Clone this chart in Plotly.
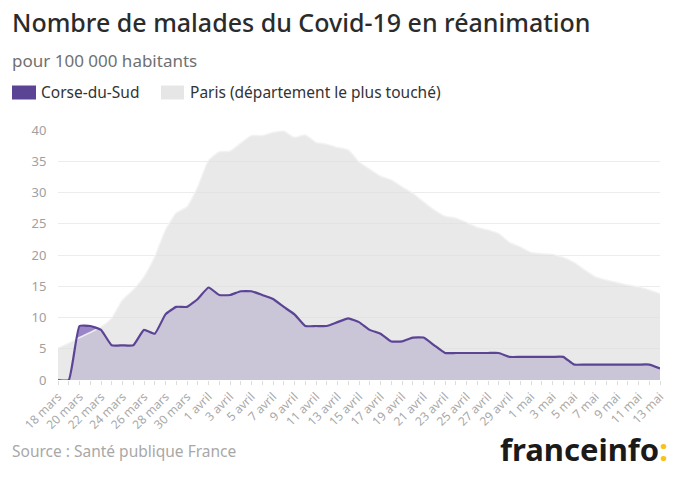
import plotly.graph_objects as go

days = ["18 mars", "19 mars", "20 mars", "21 mars", "22 mars", "23 mars", "24 mars", "25 mars",
        "26 mars", "27 mars", "28 mars", "29 mars", "30 mars", "31 mars",
        "1 avril", "2 avril", "3 avril", "4 avril", "5 avril", "6 avril", "7 avril", "8 avril",
        "9 avril", "10 avril", "11 avril", "12 avril", "13 avril", "14 avril", "15 avril",
        "16 avril", "17 avril", "18 avril", "19 avril", "20 avril", "21 avril", "22 avril",
        "23 avril", "24 avril", "25 avril", "26 avril", "27 avril", "28 avril", "29 avril",
        "30 avril", "1 mai", "2 mai", "3 mai", "4 mai", "5 mai", "6 mai", "7 mai", "8 mai",
        "9 mai", "10 mai", "11 mai", "12 mai", "13 mai"]

corse = [0, 0, 8.64, 8.64, 8.02, 5.55, 5.55, 5.55, 8.02, 7.4, 10.5, 11.7, 11.7, 12.96,
         14.8, 13.6, 13.6, 14.2, 14.2, 13.6, 12.96, 11.7, 10.5, 8.64, 8.64, 8.64, 9.26,
         9.87, 9.26, 8.02, 7.4, 6.17, 6.17, 6.79, 6.79, 5.55, 4.32, 4.32, 4.32, 4.32,
         4.32, 4.32, 3.7, 3.7, 3.7, 3.7, 3.7, 3.7, 2.47, 2.47, 2.47, 2.47, 2.47, 2.47,
         2.47, 2.47, 1.85]

paris = [5.1, 5.9, 6.8, 7.6, 8.5, 9.9, 12.8, 14.4, 16.5, 19.7, 24.0, 26.7, 27.7, 30.9,
         35.1, 36.5, 36.6, 37.9, 39.1, 39.1, 39.6, 39.8, 38.8, 39.2, 38.0, 37.7, 37.2,
         36.8, 34.9, 33.7, 32.6, 32.0, 30.9, 29.9, 28.5, 27.2, 26.2, 25.9, 25.2, 24.4,
         24.0, 23.4, 22.0, 21.3, 20.4, 20.2, 20.1, 19.6, 18.8, 17.6, 16.5, 16.0, 15.6,
         15.2, 14.9, 14.4, 13.8]

y_ticks = [0, 5, 10, 15, 20, 25, 30, 35, 40]

title = "Nombre de malades du Covid-19 en réanimation"
subtitle = "pour 100 000 habitants"
series_names = ["Corse-du-Sud", "Paris (département le plus touché)"]
source = "Source : Santé publique France"

FONT = "Noto Sans"
PURPLE = "#5b4494"

x = list(range(len(days)))
fig = go.Figure()
# Corse fill (below Paris)
fig.add_trace(go.Scatter(x=x, y=corse, mode="lines", fill="tozeroy",
                         line=dict(width=0, color="#8f7cbd", shape="spline", smoothing=0.4),
                         fillcolor="#9a86c6", hoverinfo="skip", showlegend=False))
# Paris area semi-transparent on top
fig.add_trace(go.Scatter(x=x, y=paris, mode="lines", fill="tozeroy",
                         line=dict(width=1.5, color="rgba(242,242,242,0.9)", shape="spline", smoothing=0.5),
                         fillcolor="rgba(224,224,224,0.7)", name=series_names[1], showlegend=False))
# Corse line on top
fig.add_trace(go.Scatter(x=x, y=corse, mode="lines",
                         line=dict(width=2.2, color=PURPLE, shape="spline", smoothing=0.4),
                         name=series_names[0], showlegend=False))

L, R, T, B = 58, 660, 130, 380
W = R - L
H = B - T


def px(xp):
    return (xp - L) / W


def py(yp):
    return (B - yp) / H


ann = []
ann.append(dict(text=title, x=px(10), y=py(22), xanchor="left", yanchor="middle",
                font=dict(family=FONT, size=25, color="#2b2b2b", weight=500)))
ann.append(dict(text=subtitle, x=px(10), y=py(60), xanchor="left", yanchor="middle",
                font=dict(family=FONT, size=17, color="#707070")))
ann.append(dict(text=series_names[0], x=px(39), y=py(92), xanchor="left", yanchor="middle",
                font=dict(family=FONT, size=15.5, color="#333333")))
ann.append(dict(text=series_names[1], x=px(188), y=py(92), xanchor="left", yanchor="middle",
                font=dict(family=FONT, size=15.5, color="#333333")))
ann.append(dict(text=source, x=px(10), y=py(451), xanchor="left", yanchor="middle",
                font=dict(family=FONT, size=15.5, color="#a8a8a8")))
ann.append(dict(text="<b>franceinfo</b><b><span style='color:#f7c21a'>:</span></b>",
                x=px(670), y=py(449), xanchor="right", yanchor="middle",
                font=dict(family=FONT, size=31, color="#1a1a1a")))
for a in ann:
    a.update(xref="paper", yref="paper", showarrow=False)

shapes = [
    dict(type="rect", xref="paper", yref="paper", x0=px(12), x1=px(36), y0=py(99.5), y1=py(85.5),
         fillcolor=PURPLE, line=dict(width=0)),
    dict(type="rect", xref="paper", yref="paper", x0=px(161), x1=px(184), y0=py(99.5), y1=py(85.5),
         fillcolor="#e6e6e6", line=dict(width=0)),
]

ticktext = [d if i % 2 == 0 else "" for i, d in enumerate(days)]

fig.update_layout(
    width=680, height=480,
    margin=dict(l=L, r=680 - R, t=T, b=480 - B),
    paper_bgcolor="white", plot_bgcolor="white",
    annotations=ann, shapes=shapes, showlegend=False,
    font=dict(family=FONT),
)
fig.update_xaxes(range=[0, len(days) - 1], tickmode="array", tickvals=x, ticktext=ticktext,
                 tickangle=-45, tickfont=dict(family=FONT, size=12, color="#a8a8a8"),
                 ticks="outside", ticklen=4, tickcolor="#dddddd", showgrid=False,
                 zeroline=False, showline=False)
fig.update_yaxes(range=[0, 40], tickvals=y_ticks, tickfont=dict(family=FONT, size=13, color="#a0a0a0"),
                 gridcolor="#ececec", gridwidth=1, zeroline=False, showline=False,
                 ticks="outside", ticklen=8, tickcolor="white")

fig.write_html("out.html", config={"displayModeBar": False},
               post_script="document.body.style.margin='0';document.body.style.padding='0';")
